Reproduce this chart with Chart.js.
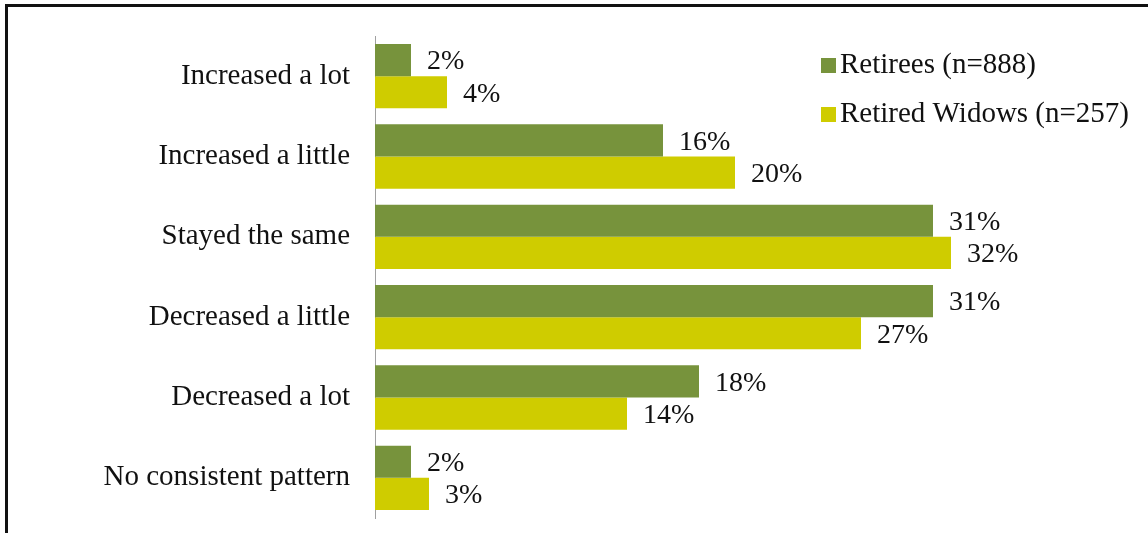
<!DOCTYPE html>
<html>
<head>
<meta charset="utf-8">
<script src="https://cdn.jsdelivr.net/npm/chart.js@4"></script>
<style>
    html, body { margin: 0; padding: 0; background: #fff; }
    .frame { position: absolute; left: 0; top: 0; width: 1148px; height: 533px; overflow: hidden; }
    .box { position: absolute; left: 5px; top: 4px; width: 1200px; height: 600px; border-top: 3px solid #111; border-left: 3px solid #111; }
    #chart { position: absolute; left: 0; top: 0; }
</style>
</head>
<body>
<div class="frame">
    <div class="box"></div>
    <canvas id="chart" width="1148" height="533"></canvas>
</div>
<script>
var categories = ['Increased a lot', 'Increased a little', 'Stayed the same', 'Decreased a little', 'Decreased a lot', 'No consistent pattern'];
var retirees = [2, 16, 31, 31, 18, 2];
var widows = [4, 20, 32, 27, 14, 3];
var seriesNames = ['Retirees (n=888)', 'Retired Widows (n=257)'];
var seriesColors = ['#77933c', '#cfcc00'];

var font = '"Liberation Serif", "Times New Roman", serif';

var valueLabels = {
    id: 'valueLabels',
    afterDatasetsDraw: function(chart) {
        var ctx = chart.ctx;
        ctx.save();
        ctx.font = '28px ' + font;
        ctx.fillStyle = '#111';
        ctx.textAlign = 'left';
        ctx.textBaseline = 'middle';
        chart.data.datasets.forEach(function(ds, i) {
            chart.getDatasetMeta(i).data.forEach(function(bar, j) {
                ctx.fillText(ds.data[j] + '%', bar.x + 16, bar.y + 2);
            });
        });
        ctx.restore();
    }
};

var boxLegend = {
    id: 'boxLegend',
    afterDraw: function(chart) {
        var ctx = chart.ctx;
        ctx.save();
        ctx.font = '29px ' + font;
        ctx.textBaseline = 'middle';
        chart.data.datasets.forEach(function(ds, i) {
            var y = 65 + i * 49;
            ctx.fillStyle = ds.backgroundColor;
            ctx.fillRect(821, y - 7, 15, 15);
            ctx.fillStyle = '#111';
            ctx.fillText(ds.label, 840, y);
        });
        ctx.restore();
    }
};

new Chart(document.getElementById('chart'), {
    type: 'bar',
    data: {
        labels: categories,
        datasets: [
            { label: seriesNames[0], data: retirees, backgroundColor: seriesColors[0] },
            { label: seriesNames[1], data: widows, backgroundColor: seriesColors[1] }
        ]
    },
    options: {
        indexAxis: 'y',
        responsive: false,
        animation: false,
        events: [],
        layout: { padding: { left: 0, top: 36, right: 53, bottom: 15 } },
        datasets: { bar: { categoryPercentage: 0.8, barPercentage: 1.0 } },
        plugins: { legend: { display: false }, tooltip: { enabled: false } },
        scales: {
            x: { display: false, min: 0, max: 40 },
            y: {
                afterFit: function(s) { s.width = 375; s.paddingTop = 0; s.paddingBottom = 0; },
                grid: { display: false, drawTicks: false },
                border: { display: true, color: '#a0a0a0', width: 1 },
                ticks: { color: '#111', padding: 25, font: { family: font, size: 29 } }
            }
        }
    },
    plugins: [valueLabels, boxLegend]
});
</script>
</body>
</html>
